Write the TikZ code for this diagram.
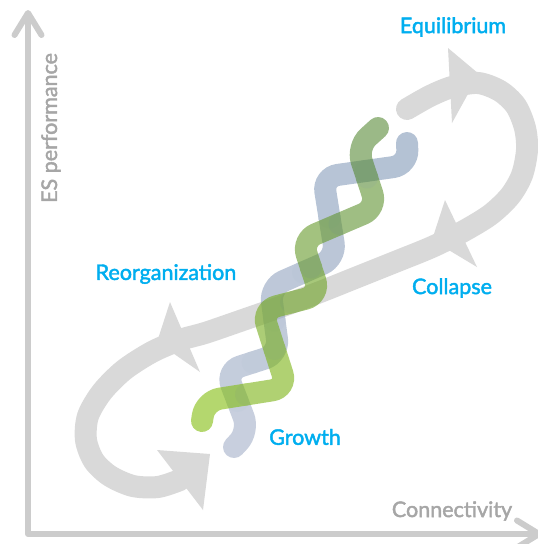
\documentclass[tikz,border=0pt]{standalone}
\usepackage{fontspec}
\setmainfont{Lato}[FakeBold=2]
\usetikzlibrary{arrows.meta}
\definecolor{axisgray}{HTML}{CCCCCC}
\definecolor{labelgray}{HTML}{A6A6A6}
\definecolor{phaseblue}{HTML}{00AEEF}
\definecolor{loopgray}{HTML}{D9D9D9}
\definecolor{strandlime}{RGB}{130,188,13}
\definecolor{strandolive}{RGB}{88,138,55}
\definecolor{strandpale}{RGB}{163,175,200}
\definecolor{strandslate}{RGB}{130,153,183}
\tikzset{
    axisline/.style={draw=axisgray, line width=6pt, line cap=round, line join=round},
    phase/.style={text=phaseblue, inner sep=0pt, font=\fontsize{21.5}{24}\selectfont},
    axislabel/.style={text=labelgray, inner sep=0pt, font=\fontsize{21.5}{24}\selectfont},
    loopband/.style={draw=loopgray, line width=22pt, line cap=round},
    looptip/.style={fill=loopgray},
    strand/.style={line width=22pt, line cap=round, rounded corners=15pt}
}

\begin{document}
\begin{tikzpicture}[x=1pt, y=-1pt]
    \useasboundingbox (0,0) rectangle (538,544);
    % axes
    \coordinate (ytop) at (28,10);
    \coordinate (origin) at (28,534);
    \coordinate (xend) at (542,534);
    \draw[axisline, {Straight Barb[length=22pt, width=27pt, round]}-{Straight Barb[length=22pt, width=27pt, round]}]
    (ytop) -- (origin) -- (xend);
    \node[axislabel, rotate=90] (esperf) at (51,128) {ES performance};
    \node[axislabel] (connect) at (452,511) {Connectivity};
    % adaptive cycle loop
    \draw[loopband] plot[smooth] coordinates {
        (407,109) (430,96) (452,87) (478,83) (500,91) (516,106) (525,128)
        (527,150) (522,175) (510,196) (490,215) (462,232) (432,247) (395,262)
        (360,276) (320,292) (280,307) (240,321) (205,333) (180,340) (152,352)
        (124,370) (102,392) (88,416) (86,440) (94,461) (110,476) (133,486)
        (158,487) (180,480)};
    \fill[looptip] (448,48) -- (479,74) -- (452,123) -- cycle;
    \fill[looptip] (445,200) -- (432,240) -- (477,267) -- cycle;
    \fill[looptip] (170,302) -- (157,342) -- (200,372) -- cycle;
    \fill[looptip] (157,450) -- (210,454) -- (203,510) -- cycle;
    % helix corners
    \foreach \x/\y [count=\k from 0] in {234/447, 249/431, 226/371, 279/354, 270/287,
        336/258, 323/177, 408/165, 407/143}
        \coordinate (b\k) at (\x,\y);
    \foreach \x/\y [count=\k from 0] in {202/421, 205/401, 287/388, 262/310, 320/295,
        302/240, 377/208, 357/147, 378/128}
        \coordinate (g\k) at (\x,\y);
    \foreach \k [evaluate=\k as \kk using int(\k+1)] in {1,...,6} {
        \path (b\k) -- (b\kk) coordinate[midway] (bm\k);
        \path (g\k) -- (g\kk) coordinate[midway] (gm\k);
    }
    \coordinate (bm0) at (b0); \coordinate (bm7) at (b8);
    \coordinate (gm0) at (g0); \coordinate (gm7) at (g8);
    % helix strands, pale at the bottom
    \begin{scope}[transparency group, opacity=0.6]
        \foreach \j [evaluate=\j as \i using int(\j-1), evaluate=\j as \pct using int(100-(\j-1)*100/6)] in {1,...,7}
            \draw[strand, draw=strandpale!\pct!strandslate] (bm\i) -- (b\j) -- (bm\j);
    \end{scope}
    \begin{scope}[transparency group, opacity=0.6]
        \foreach \j [evaluate=\j as \i using int(\j-1), evaluate=\j as \pct using int(100-(\j-1)*100/6)] in {1,...,7}
            \draw[strand, draw=strandlime!\pct!strandolive] (gm\i) -- (g\j) -- (gm\j);
    \end{scope}
    % phases
    \node[phase] (equil) at (453,27) {Equilibrium};
    \node[phase] (reorg) at (166,274) {Reorganization};
    \node[phase] (collapse) at (452,288) {Collapse};
    \node[phase] (growth) at (305,437) {Growth};
\end{tikzpicture}
\end{document}
